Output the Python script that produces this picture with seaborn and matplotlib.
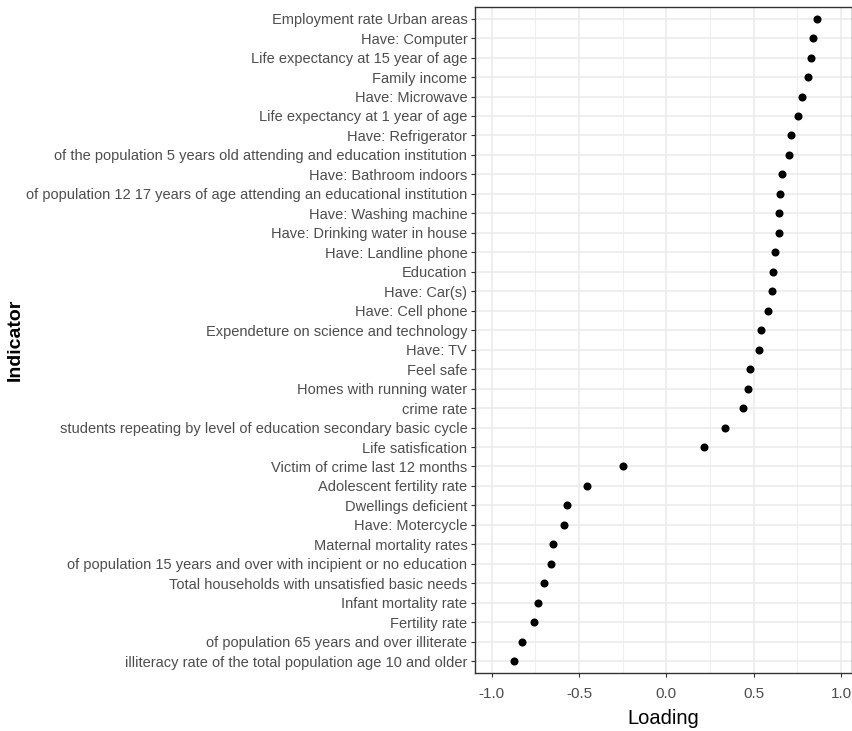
import numpy as np
import pandas as pd
import matplotlib
matplotlib.use("Agg")
import matplotlib.pyplot as plt
import seaborn as sns
from matplotlib.ticker import MultipleLocator

# indicators, top to bottom
indicators = [
    "Employment rate Urban areas",
    "Have: Computer",
    "Life expectancy at 15 year of age",
    "Family income",
    "Have: Microwave",
    "Life expectancy at 1 year of age",
    "Have: Refrigerator",
    "of the population 5 years old attending and education institution",
    "Have: Bathroom indoors",
    "of population 12 17 years of age attending an educational institution",
    "Have: Washing machine",
    "Have: Drinking water in house",
    "Have: Landline phone",
    "Education",
    "Have: Car(s)",
    "Have: Cell phone",
    "Expendeture on science and technology",
    "Have: TV",
    "Feel safe",
    "Homes with running water",
    "crime rate",
    "students repeating by level of education secondary basic cycle",
    "Life satisfication",
    "Victim of crime last 12 months",
    "Adolescent fertility rate",
    "Dwellings deficient",
    "Have: Motercycle",
    "Maternal mortality rates",
    "of population 15 years and over with incipient or no education",
    "Total households with unsatisfied basic needs",
    "Infant mortality rate",
    "Fertility rate",
    "of population 65 years and over illiterate",
    "illiteracy rate of the total population age 10 and older",
]
loadings = [
    0.865, 0.839, 0.829, 0.812, 0.776, 0.755, 0.716, 0.701, 0.661, 0.653,
    0.642, 0.642, 0.619, 0.611, 0.607, 0.579, 0.544, 0.531, 0.479, 0.470,
    0.437, 0.338, 0.216, -0.248, -0.453, -0.571, -0.585, -0.651, -0.661,
    -0.699, -0.734, -0.756, -0.827, -0.873,
]
x_ticks = [-1.0, -0.5, 0.0, 0.5, 1.0]

df = pd.DataFrame({"Indicator": indicators, "Loading": loadings})

sns.set_theme(style="white")
plt.rcParams["font.family"] = ["Liberation Sans", "DejaVu Sans"]

fig = plt.figure(figsize=(8.52, 7.31), dpi=100)
ax = fig.add_axes([0.5575, 0.0795, 0.442, 0.911])

sns.stripplot(data=df, x="Loading", y="Indicator", order=indicators,
              jitter=False, color="black", size=5.8, ax=ax, zorder=3)

ax.set_xlim(-1.095, 1.06)
ax.set_ylim(len(indicators) - 0.4, -0.6)
ax.set_xticks(x_ticks)
ax.set_xticklabels([f"{t:.1f}" for t in x_ticks])
ax.xaxis.set_minor_locator(MultipleLocator(0.25))

# theme_bw look
ax.grid(True, which="major", color="#EBEBEB", linewidth=1.1)
ax.grid(True, which="minor", axis="x", color="#EFEFEF", linewidth=0.8)
ax.set_axisbelow(True)
for s in ax.spines.values():
    s.set_color("#333333")
    s.set_linewidth(1.0)

ax.tick_params(axis="both", which="major", length=3, width=0.8, color="#333333",
               labelcolor="#4D4D4D", labelsize=10.5, pad=2.5)
ax.tick_params(axis="x", which="major", labelsize=11, pad=7)
ax.tick_params(axis="x", which="minor", length=0)
ax.tick_params(axis="both", left=True, bottom=True)

ax.set_xlabel("Loading", fontsize=14.5, color="black", labelpad=6)
ax.set_ylabel("")
fig.text(15 / 852, 1 - 340 / 731, "Indicator", rotation=90, ha="center", va="center",
         fontsize=14, fontweight="bold", color="black")

fig.savefig("out.png", dpi=100)
